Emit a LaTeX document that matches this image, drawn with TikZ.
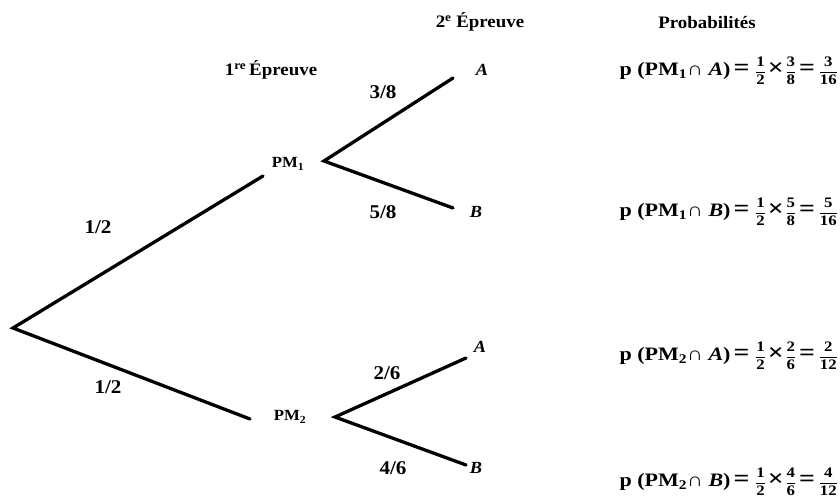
\documentclass[tikz,border=0pt]{standalone}
\usepackage{fontspec}
\setmainfont{Liberation Serif}[FakeStretch=1.08]
\newfontfamily\formfont{Liberation Serif}[FakeStretch=1.16]
\newcommand{\fr}[2]{{\fontsize{14.5}{14.5}\selectfont\setlength{\arrayrulewidth}{0.7pt}\renewcommand{\arraystretch}{1.15}\begin{tabular}{@{}c@{}}#1\\\hline #2\end{tabular}}}
\newcommand{\tms}{{\fontsize{24}{20}\selectfont ×}}
\newcommand{\eqs}{{\fontsize{24}{20}\selectfont =}}
\tikzset{
  branch/.style={line width=3.3pt, line cap=round, line join=miter},
  lbl/.style={font=\fontsize{15.5}{18}\selectfont\bfseries, inner sep=0pt},
  head/.style={font=\fontsize{17.5}{20}\selectfont\bfseries, inner sep=0pt},
  prob/.style={font=\fontsize{19.5}{20}\selectfont\bfseries, inner sep=0pt},
  leaf/.style={font=\fontsize{17}{20}\selectfont\bfseries\itshape, inner sep=0pt},
  formula/.style={font=\formfont\fontsize{19}{20}\selectfont\bfseries, inner sep=0pt, anchor=east},
}
\begin{document}
\begin{tikzpicture}[x=1pt,y=-1pt]
\useasboundingbox (0,0) rectangle (840,501);
% headers
\node[head] (h1) at (271,70) {1\textsuperscript{re}\,Épreuve};
\node[head] (h2) at (480,22) {2\textsuperscript{e} Épreuve};
\node[head] (h3) at (707,23) {Probabilités};
% tree points
\coordinate (r) at (13,328);
\coordinate (p1in) at (263,176);
\coordinate (p1out) at (324,161);
\coordinate (p2in) at (250,419);
\coordinate (p2out) at (335,417);
\coordinate (a1) at (453,78);
\coordinate (b1) at (453,208);
\coordinate (a2) at (466,358);
\coordinate (b2) at (466,465);
% nodes
\node[lbl] (pm1) at (288,164) {PM\textsubscript{1}};
\node[lbl] (pm2) at (290,417) {PM\textsubscript{2}};
\node[leaf] (A1) at (482,70) {A};
\node[leaf] (B1) at (476,212) {B};
\node[leaf] (A2) at (480,347) {A};
\node[leaf] (B2) at (476,468) {B};
% branches
\draw[branch] (p1in) -- (r) -- (p2in);
\draw[branch] (a1) -- (p1out) -- (b1);
\draw[branch] (a2) -- (p2out) -- (b2);
% branch labels
\node[prob] (l1) at (98,227) {1/2};
\node[prob] (l2) at (108,387) {1/2};
\node[prob] (l3) at (383,92) {3/8};
\node[prob] (l4) at (383,212) {5/8};
\node[prob] (l5) at (387,373) {2/6};
\node[prob] (l6) at (393,468) {4/6};
% formulas
\node[formula] (f1) at (837,72) {p (PM\textsubscript{1}∩ \textit{A})\hspace{3pt}\eqs\hspace{7pt}\fr{1}{2}\hspace{3pt}\tms\hspace{3pt}\fr{3}{8}\hspace{4pt}\eqs\hspace{5pt}\fr{3}{16}};
\node[formula] (f2) at (837,213) {p (PM\textsubscript{1}∩ \textit{B})\hspace{3pt}\eqs\hspace{7pt}\fr{1}{2}\hspace{3pt}\tms\hspace{3pt}\fr{5}{8}\hspace{4pt}\eqs\hspace{5pt}\fr{5}{16}};
\node[formula] (f3) at (837,357) {p (PM\textsubscript{2}∩ \textit{A})\hspace{3pt}\eqs\hspace{7pt}\fr{1}{2}\hspace{3pt}\tms\hspace{3pt}\fr{2}{6}\hspace{4pt}\eqs\hspace{5pt}\fr{2}{12}};
\node[formula] (f4) at (837,483) {p (PM\textsubscript{2}∩ \textit{B})\hspace{3pt}\eqs\hspace{7pt}\fr{1}{2}\hspace{3pt}\tms\hspace{3pt}\fr{4}{6}\hspace{4pt}\eqs\hspace{5pt}\fr{4}{12}};
\end{tikzpicture}
\end{document}
